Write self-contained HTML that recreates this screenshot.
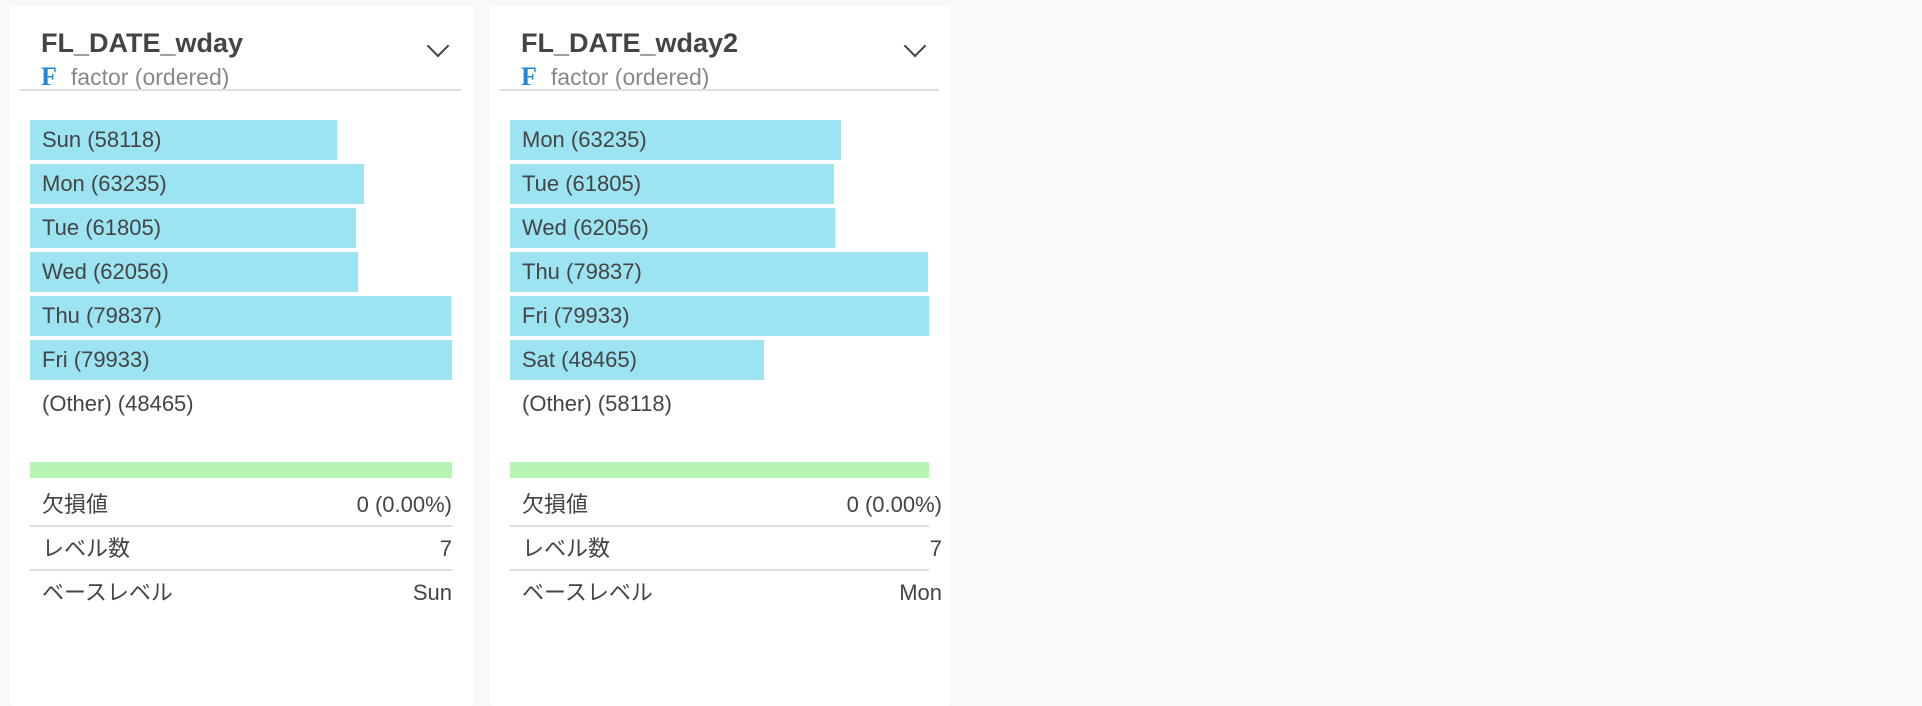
<!DOCTYPE html>
<html><head><meta charset="utf-8"><style>
body{margin:0;width:1922px;height:692px;background:#f8f8f8;font-family:"Liberation Sans","Noto Sans CJK JP",sans-serif;position:relative;overflow:hidden;color:#444}
.card{position:absolute;top:6px;height:700px;background:#fff;border-radius:4px}
.abs{position:absolute}
.title{left:31px;top:22px;font-size:27px;font-weight:bold;color:#444}
.sub{left:31px;top:56px;font-size:23px;color:#888}
.sub b{color:#1e88d8;font-family:"Liberation Serif",serif;font-size:26px;margin-right:14px}
.chev{top:32px;width:14px;height:14px;border-right:2px solid #444;border-bottom:2px solid #444;transform:rotate(45deg)}
.div{left:10px;top:83px;height:2px;background:#ddd}
.bar{background:#9de4f2;height:40px}
.lbl{font-size:22px;line-height:40px;color:#444}
.green{top:456px;height:16px;background:#b7f5b5}
.row{font-size:22px;color:#444;height:44px;line-height:44px}
.sep{height:2px;background:#ddd}
</style></head><body>
<script>
const cards=[
 {x:10,w:464,name:"FL_DATE_wday",cats:["Sun","Mon","Tue","Wed","Thu","Fri"],vals:[58118,63235,61805,62056,79837,79933],other:48465,base:"Sun"},
 {x:490,w:461,name:"FL_DATE_wday2",cats:["Mon","Tue","Wed","Thu","Fri","Sat"],vals:[63235,61805,62056,79837,79933,48465],other:58118,base:"Mon"}
];
const levels=7, missing="0 (0.00%)";
cards.forEach((c,ci)=>{
 const card=document.createElement('div');card.className='card';card.style.left=c.x+'px';card.style.width=c.w+'px';
 
 
 document.body.appendChild(card);
 const add=(cls,html,st,name,inter)=>{const e=document.createElement('div');e.className='abs '+cls;e.innerHTML=html;Object.assign(e.style,st);
  
  
  card.appendChild(e);return e;};
 add('title',c.name,{},'column-title',false);
 add('sub','<b>F</b>factor (ordered)',{},'column-type',false);
 add('chev','',{left:(c.w-44)+'px'},'dropdown-chevron',true);
 add('div','',{width:(c.w-22)+'px'},'header-divider',false);
 const full=c.w-42, max=Math.max(...c.vals);
 c.cats.forEach((k,i)=>{
  const y=114+i*44;
  add('bar','',{left:'20px',top:y+'px',width:(c.vals[i]/max*full)+'px'},'bar-'+k.toLowerCase(),true);
  add('lbl',k+' ('+c.vals[i]+')',{left:'32px',top:y+'px'},'bar-label',false);
 });
 add('lbl','(Other) ('+c.other+')',{left:'32px',top:(114+6*44)+'px'},'other-label',false);
 add('green','',{left:'20px',width:full+'px'},'missing-bar',false);
 const rows=[["欠損値",missing],["レベル数",levels],["ベースレベル",c.base]];
 rows.forEach((r,i)=>{
  const y=477+i*44;
  add('row',r[0],{left:'32px',top:y+'px'},'stat-label',false);
  add('row',r[1],{right:(c.w-442+(ci?-10:0))+'px',top:y+'px',textAlign:'right'},'stat-value',false);
  if(i<2) add('sep','',{left:'20px',top:(y+42)+'px',width:full+'px'},'stat-divider',false);
 });
});
</script>
</body></html>
